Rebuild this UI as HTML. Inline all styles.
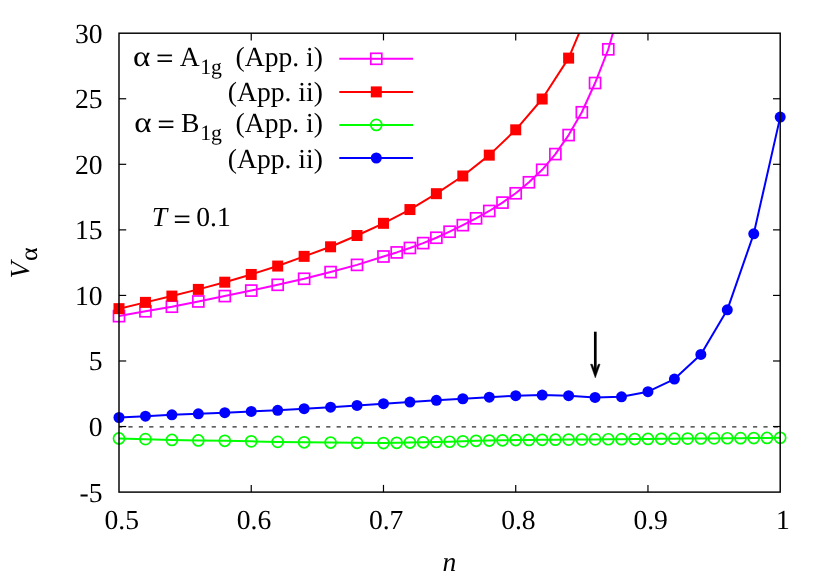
<!DOCTYPE html>
<html><head><meta charset="utf-8"><title>plot</title>
<style>
html,body{margin:0;padding:0;background:#fff;}
svg{display:block;will-change:transform;}
text{font-family:"Liberation Serif",serif;fill:#000;text-rendering:geometricPrecision;}
</style></head><body>
<svg width="830" height="581" viewBox="0 0 830 581">
<rect width="830" height="581" fill="#fff"/>
<defs><clipPath id="c"><rect x="119.00" y="33.20" width="661.20" height="458.90"/></clipPath></defs>

<line x1="119.00" y1="426.89" x2="780.20" y2="426.89" stroke="#2a2a2a" stroke-width="1.05" stroke-dasharray="4.2 6.21" stroke-dashoffset="1.0"/>
<text x="102.6" y="42.60" font-size="27.6" text-anchor="end">30</text>
<text x="102.6" y="108.16" font-size="27.6" text-anchor="end">25</text>
<text x="102.6" y="173.71" font-size="27.6" text-anchor="end">20</text>
<text x="102.6" y="239.27" font-size="27.6" text-anchor="end">15</text>
<text x="102.6" y="304.83" font-size="27.6" text-anchor="end">10</text>
<text x="102.6" y="370.39" font-size="27.6" text-anchor="end">5</text>
<text x="102.6" y="435.94" font-size="27.6" text-anchor="end">0</text>
<text x="102.6" y="501.50" font-size="27.6" text-anchor="end">-5</text>
<text x="121.70" y="528.9" font-size="27.6" text-anchor="middle">0.5</text>
<text x="253.94" y="528.9" font-size="27.6" text-anchor="middle">0.6</text>
<text x="386.18" y="528.9" font-size="27.6" text-anchor="middle">0.7</text>
<text x="518.42" y="528.9" font-size="27.6" text-anchor="middle">0.8</text>
<text x="650.66" y="528.9" font-size="27.6" text-anchor="middle">0.9</text>
<text x="782.90" y="528.9" font-size="27.6" text-anchor="middle">1</text>
<text x="449.5" y="571.3" font-size="27.6" font-style="italic" text-anchor="middle">n</text>
<g transform="translate(28.9,278.4) rotate(-90)"><text x="0" y="0" font-size="27.6" font-style="italic">V</text><text transform="translate(17.5,8.0) scale(1.2,1.12)" font-size="21.8">α</text></g>
<text x="151.7" y="226" font-size="27.6" font-style="italic">T</text>
<text transform="translate(181.95,228.7) scale(1.1,1.06)" text-anchor="middle" font-size="27.6" stroke="#000" stroke-width="0.3">=</text>
<text x="196.3" y="226" font-size="27.6">0.1</text>
<g clip-path="url(#c)"><polyline points="119.00,316.14 145.45,311.29 171.90,306.70 198.34,301.46 224.79,296.08 251.24,290.58 277.69,284.81 304.14,278.78 330.58,272.09 357.03,264.88 383.48,256.49 396.70,252.42 409.93,247.97 423.15,243.11 436.38,237.74 449.60,231.71 462.82,225.15 476.05,218.33 489.27,210.99 502.50,202.60 515.72,193.29 528.94,182.28 542.17,169.82 555.39,154.09 568.62,135.08 581.84,112.26 595.06,83.02 608.29,49.33 621.51,3.04" fill="none" stroke="#ff00ff" stroke-width="2" stroke-linejoin="round"/></g>
<rect x="113.50" y="310.64" width="11.00" height="11.00" fill="none" stroke="#ff00ff" stroke-width="1.7"/>
<rect x="139.95" y="305.79" width="11.00" height="11.00" fill="none" stroke="#ff00ff" stroke-width="1.7"/>
<rect x="166.40" y="301.20" width="11.00" height="11.00" fill="none" stroke="#ff00ff" stroke-width="1.7"/>
<rect x="192.84" y="295.96" width="11.00" height="11.00" fill="none" stroke="#ff00ff" stroke-width="1.7"/>
<rect x="219.29" y="290.58" width="11.00" height="11.00" fill="none" stroke="#ff00ff" stroke-width="1.7"/>
<rect x="245.74" y="285.08" width="11.00" height="11.00" fill="none" stroke="#ff00ff" stroke-width="1.7"/>
<rect x="272.19" y="279.31" width="11.00" height="11.00" fill="none" stroke="#ff00ff" stroke-width="1.7"/>
<rect x="298.64" y="273.28" width="11.00" height="11.00" fill="none" stroke="#ff00ff" stroke-width="1.7"/>
<rect x="325.08" y="266.59" width="11.00" height="11.00" fill="none" stroke="#ff00ff" stroke-width="1.7"/>
<rect x="351.53" y="259.38" width="11.00" height="11.00" fill="none" stroke="#ff00ff" stroke-width="1.7"/>
<rect x="377.98" y="250.99" width="11.00" height="11.00" fill="none" stroke="#ff00ff" stroke-width="1.7"/>
<rect x="391.20" y="246.92" width="11.00" height="11.00" fill="none" stroke="#ff00ff" stroke-width="1.7"/>
<rect x="404.43" y="242.47" width="11.00" height="11.00" fill="none" stroke="#ff00ff" stroke-width="1.7"/>
<rect x="417.65" y="237.61" width="11.00" height="11.00" fill="none" stroke="#ff00ff" stroke-width="1.7"/>
<rect x="430.88" y="232.24" width="11.00" height="11.00" fill="none" stroke="#ff00ff" stroke-width="1.7"/>
<rect x="444.10" y="226.21" width="11.00" height="11.00" fill="none" stroke="#ff00ff" stroke-width="1.7"/>
<rect x="457.32" y="219.65" width="11.00" height="11.00" fill="none" stroke="#ff00ff" stroke-width="1.7"/>
<rect x="470.55" y="212.83" width="11.00" height="11.00" fill="none" stroke="#ff00ff" stroke-width="1.7"/>
<rect x="483.77" y="205.49" width="11.00" height="11.00" fill="none" stroke="#ff00ff" stroke-width="1.7"/>
<rect x="497.00" y="197.10" width="11.00" height="11.00" fill="none" stroke="#ff00ff" stroke-width="1.7"/>
<rect x="510.22" y="187.79" width="11.00" height="11.00" fill="none" stroke="#ff00ff" stroke-width="1.7"/>
<rect x="523.44" y="176.78" width="11.00" height="11.00" fill="none" stroke="#ff00ff" stroke-width="1.7"/>
<rect x="536.67" y="164.32" width="11.00" height="11.00" fill="none" stroke="#ff00ff" stroke-width="1.7"/>
<rect x="549.89" y="148.59" width="11.00" height="11.00" fill="none" stroke="#ff00ff" stroke-width="1.7"/>
<rect x="563.12" y="129.58" width="11.00" height="11.00" fill="none" stroke="#ff00ff" stroke-width="1.7"/>
<rect x="576.34" y="106.76" width="11.00" height="11.00" fill="none" stroke="#ff00ff" stroke-width="1.7"/>
<rect x="589.56" y="77.52" width="11.00" height="11.00" fill="none" stroke="#ff00ff" stroke-width="1.7"/>
<rect x="602.79" y="43.83" width="11.00" height="11.00" fill="none" stroke="#ff00ff" stroke-width="1.7"/>
<g clip-path="url(#c)"><polyline points="119.00,308.67 145.45,302.38 171.90,296.08 198.34,289.40 224.79,282.19 251.24,274.45 277.69,266.06 304.14,256.36 330.58,246.79 357.03,235.51 383.48,223.32 409.93,209.55 436.38,193.68 462.82,175.98 489.27,155.14 515.72,129.83 542.17,99.02 568.62,58.11 595.06,-4.82" fill="none" stroke="#ff0000" stroke-width="2" stroke-linejoin="round"/></g>
<rect x="113.50" y="303.17" width="11.00" height="11.00" fill="#ff0000"/>
<rect x="139.95" y="296.88" width="11.00" height="11.00" fill="#ff0000"/>
<rect x="166.40" y="290.58" width="11.00" height="11.00" fill="#ff0000"/>
<rect x="192.84" y="283.90" width="11.00" height="11.00" fill="#ff0000"/>
<rect x="219.29" y="276.69" width="11.00" height="11.00" fill="#ff0000"/>
<rect x="245.74" y="268.95" width="11.00" height="11.00" fill="#ff0000"/>
<rect x="272.19" y="260.56" width="11.00" height="11.00" fill="#ff0000"/>
<rect x="298.64" y="250.86" width="11.00" height="11.00" fill="#ff0000"/>
<rect x="325.08" y="241.29" width="11.00" height="11.00" fill="#ff0000"/>
<rect x="351.53" y="230.01" width="11.00" height="11.00" fill="#ff0000"/>
<rect x="377.98" y="217.82" width="11.00" height="11.00" fill="#ff0000"/>
<rect x="404.43" y="204.05" width="11.00" height="11.00" fill="#ff0000"/>
<rect x="430.88" y="188.18" width="11.00" height="11.00" fill="#ff0000"/>
<rect x="457.32" y="170.48" width="11.00" height="11.00" fill="#ff0000"/>
<rect x="483.77" y="149.64" width="11.00" height="11.00" fill="#ff0000"/>
<rect x="510.22" y="124.33" width="11.00" height="11.00" fill="#ff0000"/>
<rect x="536.67" y="93.52" width="11.00" height="11.00" fill="#ff0000"/>
<rect x="563.12" y="52.61" width="11.00" height="11.00" fill="#ff0000"/>
<g clip-path="url(#c)"><polyline points="119.00,438.47 145.45,439.13 171.90,439.92 198.34,440.44 224.79,440.83 251.24,441.36 277.69,441.88 304.14,442.28 330.58,442.54 357.03,442.80 383.48,443.06 396.70,442.80 409.93,442.54 423.15,442.28 436.38,442.01 449.60,441.75 462.82,441.36 476.05,440.83 489.27,440.57 502.50,440.31 515.72,440.05 528.94,439.94 542.17,439.82 555.39,439.71 568.62,439.60 581.84,439.49 595.06,439.38 608.29,439.27 621.51,439.16 634.74,439.04 647.96,438.93 661.18,438.82 674.41,438.71 687.63,438.60 700.86,438.49 714.08,438.38 727.30,438.26 740.53,438.15 753.75,438.04 766.98,437.93 780.20,437.82" fill="none" stroke="#00ff00" stroke-width="2" stroke-linejoin="round"/></g>
<circle cx="119.00" cy="438.47" r="5.5" fill="none" stroke="#00ff00" stroke-width="1.7"/>
<circle cx="145.45" cy="439.13" r="5.5" fill="none" stroke="#00ff00" stroke-width="1.7"/>
<circle cx="171.90" cy="439.92" r="5.5" fill="none" stroke="#00ff00" stroke-width="1.7"/>
<circle cx="198.34" cy="440.44" r="5.5" fill="none" stroke="#00ff00" stroke-width="1.7"/>
<circle cx="224.79" cy="440.83" r="5.5" fill="none" stroke="#00ff00" stroke-width="1.7"/>
<circle cx="251.24" cy="441.36" r="5.5" fill="none" stroke="#00ff00" stroke-width="1.7"/>
<circle cx="277.69" cy="441.88" r="5.5" fill="none" stroke="#00ff00" stroke-width="1.7"/>
<circle cx="304.14" cy="442.28" r="5.5" fill="none" stroke="#00ff00" stroke-width="1.7"/>
<circle cx="330.58" cy="442.54" r="5.5" fill="none" stroke="#00ff00" stroke-width="1.7"/>
<circle cx="357.03" cy="442.80" r="5.5" fill="none" stroke="#00ff00" stroke-width="1.7"/>
<circle cx="383.48" cy="443.06" r="5.5" fill="none" stroke="#00ff00" stroke-width="1.7"/>
<circle cx="396.70" cy="442.80" r="5.5" fill="none" stroke="#00ff00" stroke-width="1.7"/>
<circle cx="409.93" cy="442.54" r="5.5" fill="none" stroke="#00ff00" stroke-width="1.7"/>
<circle cx="423.15" cy="442.28" r="5.5" fill="none" stroke="#00ff00" stroke-width="1.7"/>
<circle cx="436.38" cy="442.01" r="5.5" fill="none" stroke="#00ff00" stroke-width="1.7"/>
<circle cx="449.60" cy="441.75" r="5.5" fill="none" stroke="#00ff00" stroke-width="1.7"/>
<circle cx="462.82" cy="441.36" r="5.5" fill="none" stroke="#00ff00" stroke-width="1.7"/>
<circle cx="476.05" cy="440.83" r="5.5" fill="none" stroke="#00ff00" stroke-width="1.7"/>
<circle cx="489.27" cy="440.57" r="5.5" fill="none" stroke="#00ff00" stroke-width="1.7"/>
<circle cx="502.50" cy="440.31" r="5.5" fill="none" stroke="#00ff00" stroke-width="1.7"/>
<circle cx="515.72" cy="440.05" r="5.5" fill="none" stroke="#00ff00" stroke-width="1.7"/>
<circle cx="528.94" cy="439.94" r="5.5" fill="none" stroke="#00ff00" stroke-width="1.7"/>
<circle cx="542.17" cy="439.82" r="5.5" fill="none" stroke="#00ff00" stroke-width="1.7"/>
<circle cx="555.39" cy="439.71" r="5.5" fill="none" stroke="#00ff00" stroke-width="1.7"/>
<circle cx="568.62" cy="439.60" r="5.5" fill="none" stroke="#00ff00" stroke-width="1.7"/>
<circle cx="581.84" cy="439.49" r="5.5" fill="none" stroke="#00ff00" stroke-width="1.7"/>
<circle cx="595.06" cy="439.38" r="5.5" fill="none" stroke="#00ff00" stroke-width="1.7"/>
<circle cx="608.29" cy="439.27" r="5.5" fill="none" stroke="#00ff00" stroke-width="1.7"/>
<circle cx="621.51" cy="439.16" r="5.5" fill="none" stroke="#00ff00" stroke-width="1.7"/>
<circle cx="634.74" cy="439.04" r="5.5" fill="none" stroke="#00ff00" stroke-width="1.7"/>
<circle cx="647.96" cy="438.93" r="5.5" fill="none" stroke="#00ff00" stroke-width="1.7"/>
<circle cx="661.18" cy="438.82" r="5.5" fill="none" stroke="#00ff00" stroke-width="1.7"/>
<circle cx="674.41" cy="438.71" r="5.5" fill="none" stroke="#00ff00" stroke-width="1.7"/>
<circle cx="687.63" cy="438.60" r="5.5" fill="none" stroke="#00ff00" stroke-width="1.7"/>
<circle cx="700.86" cy="438.49" r="5.5" fill="none" stroke="#00ff00" stroke-width="1.7"/>
<circle cx="714.08" cy="438.38" r="5.5" fill="none" stroke="#00ff00" stroke-width="1.7"/>
<circle cx="727.30" cy="438.26" r="5.5" fill="none" stroke="#00ff00" stroke-width="1.7"/>
<circle cx="740.53" cy="438.15" r="5.5" fill="none" stroke="#00ff00" stroke-width="1.7"/>
<circle cx="753.75" cy="438.04" r="5.5" fill="none" stroke="#00ff00" stroke-width="1.7"/>
<circle cx="766.98" cy="437.93" r="5.5" fill="none" stroke="#00ff00" stroke-width="1.7"/>
<circle cx="780.20" cy="437.82" r="5.5" fill="none" stroke="#00ff00" stroke-width="1.7"/>
<g clip-path="url(#c)"><polyline points="119.00,417.50 145.45,416.18 171.90,414.87 198.34,413.82 224.79,412.64 251.24,411.46 277.69,410.28 304.14,408.71 330.58,407.14 357.03,405.43 383.48,403.73 409.93,402.02 436.38,400.32 462.82,398.75 489.27,397.17 515.72,395.73 542.17,395.08 568.62,395.73 595.06,397.44 621.51,396.78 647.96,391.67 674.41,379.08 700.86,354.43 727.30,309.85 753.75,233.80 780.20,117.11" fill="none" stroke="#0000ff" stroke-width="2" stroke-linejoin="round"/></g>
<circle cx="119.00" cy="417.50" r="5.5" fill="#0000ff"/>
<circle cx="145.45" cy="416.18" r="5.5" fill="#0000ff"/>
<circle cx="171.90" cy="414.87" r="5.5" fill="#0000ff"/>
<circle cx="198.34" cy="413.82" r="5.5" fill="#0000ff"/>
<circle cx="224.79" cy="412.64" r="5.5" fill="#0000ff"/>
<circle cx="251.24" cy="411.46" r="5.5" fill="#0000ff"/>
<circle cx="277.69" cy="410.28" r="5.5" fill="#0000ff"/>
<circle cx="304.14" cy="408.71" r="5.5" fill="#0000ff"/>
<circle cx="330.58" cy="407.14" r="5.5" fill="#0000ff"/>
<circle cx="357.03" cy="405.43" r="5.5" fill="#0000ff"/>
<circle cx="383.48" cy="403.73" r="5.5" fill="#0000ff"/>
<circle cx="409.93" cy="402.02" r="5.5" fill="#0000ff"/>
<circle cx="436.38" cy="400.32" r="5.5" fill="#0000ff"/>
<circle cx="462.82" cy="398.75" r="5.5" fill="#0000ff"/>
<circle cx="489.27" cy="397.17" r="5.5" fill="#0000ff"/>
<circle cx="515.72" cy="395.73" r="5.5" fill="#0000ff"/>
<circle cx="542.17" cy="395.08" r="5.5" fill="#0000ff"/>
<circle cx="568.62" cy="395.73" r="5.5" fill="#0000ff"/>
<circle cx="595.06" cy="397.44" r="5.5" fill="#0000ff"/>
<circle cx="621.51" cy="396.78" r="5.5" fill="#0000ff"/>
<circle cx="647.96" cy="391.67" r="5.5" fill="#0000ff"/>
<circle cx="674.41" cy="379.08" r="5.5" fill="#0000ff"/>
<circle cx="700.86" cy="354.43" r="5.5" fill="#0000ff"/>
<circle cx="727.30" cy="309.85" r="5.5" fill="#0000ff"/>
<circle cx="753.75" cy="233.80" r="5.5" fill="#0000ff"/>
<circle cx="780.20" cy="117.11" r="5.5" fill="#0000ff"/>
<rect x="119.00" y="33.20" width="661.20" height="458.90" fill="none" stroke="#000" stroke-width="1.45"/>
<line x1="251.24" y1="492.10" x2="251.24" y2="484.90" stroke="#000" stroke-width="1.2"/>
<line x1="251.24" y1="33.20" x2="251.24" y2="40.40" stroke="#000" stroke-width="1.2"/>
<line x1="383.48" y1="492.10" x2="383.48" y2="484.90" stroke="#000" stroke-width="1.2"/>
<line x1="383.48" y1="33.20" x2="383.48" y2="40.40" stroke="#000" stroke-width="1.2"/>
<line x1="515.72" y1="492.10" x2="515.72" y2="484.90" stroke="#000" stroke-width="1.2"/>
<line x1="515.72" y1="33.20" x2="515.72" y2="40.40" stroke="#000" stroke-width="1.2"/>
<line x1="647.96" y1="492.10" x2="647.96" y2="484.90" stroke="#000" stroke-width="1.2"/>
<line x1="647.96" y1="33.20" x2="647.96" y2="40.40" stroke="#000" stroke-width="1.2"/>
<line x1="119.00" y1="426.54" x2="126.20" y2="426.54" stroke="#000" stroke-width="1.2"/>
<line x1="780.20" y1="426.54" x2="773.00" y2="426.54" stroke="#000" stroke-width="1.2"/>
<line x1="119.00" y1="360.99" x2="126.20" y2="360.99" stroke="#000" stroke-width="1.2"/>
<line x1="780.20" y1="360.99" x2="773.00" y2="360.99" stroke="#000" stroke-width="1.2"/>
<line x1="119.00" y1="295.43" x2="126.20" y2="295.43" stroke="#000" stroke-width="1.2"/>
<line x1="780.20" y1="295.43" x2="773.00" y2="295.43" stroke="#000" stroke-width="1.2"/>
<line x1="119.00" y1="229.87" x2="126.20" y2="229.87" stroke="#000" stroke-width="1.2"/>
<line x1="780.20" y1="229.87" x2="773.00" y2="229.87" stroke="#000" stroke-width="1.2"/>
<line x1="119.00" y1="164.31" x2="126.20" y2="164.31" stroke="#000" stroke-width="1.2"/>
<line x1="780.20" y1="164.31" x2="773.00" y2="164.31" stroke="#000" stroke-width="1.2"/>
<line x1="119.00" y1="98.76" x2="126.20" y2="98.76" stroke="#000" stroke-width="1.2"/>
<line x1="780.20" y1="98.76" x2="773.00" y2="98.76" stroke="#000" stroke-width="1.2"/>
<line x1="339.30" y1="58.80" x2="413.00" y2="58.80" stroke="#ff00ff" stroke-width="2"/>
<line x1="339.30" y1="91.90" x2="413.00" y2="91.90" stroke="#ff0000" stroke-width="2"/>
<line x1="339.30" y1="124.90" x2="413.00" y2="124.90" stroke="#00ff00" stroke-width="2"/>
<line x1="339.30" y1="158.00" x2="413.00" y2="158.00" stroke="#0000ff" stroke-width="2"/>
<rect x="370.80" y="53.30" width="11.00" height="11.00" fill="#fff" stroke="#ff00ff" stroke-width="1.7"/>
<line x1="370.80" y1="58.80" x2="381.80" y2="58.80" stroke="#ff00ff" stroke-width="2"/>
<rect x="370.80" y="86.40" width="11.00" height="11.00" fill="#ff0000"/>
<circle cx="376.30" cy="124.90" r="5.5" fill="none" stroke="#00ff00" stroke-width="1.7"/>
<circle cx="376.30" cy="158.00" r="5.5" fill="#0000ff"/>
<text x="322.9" y="65.60" font-size="27.6" text-anchor="end">(App. i)</text>
<text x="322.9" y="101.30" font-size="27.6" text-anchor="end">(App. ii)</text>
<text x="322.9" y="131.60" font-size="27.6" text-anchor="end">(App. i)</text>
<text x="322.9" y="167.80" font-size="27.6" text-anchor="end">(App. ii)</text>
<text transform="translate(132.90,65.60) scale(1.2,1.05)" font-size="27.6">α</text>
<text transform="translate(164.75,68.30) scale(1.1,1.06)" text-anchor="middle" font-size="27.6" stroke="#000" stroke-width="0.3">=</text>
<text x="179.80" y="65.60" font-size="27.6">A</text>
<text x="200.2" y="73.50" font-size="21.8">1g</text>
<text transform="translate(134.20,131.60) scale(1.2,1.05)" font-size="27.6">α</text>
<text transform="translate(166.05,134.30) scale(1.1,1.06)" text-anchor="middle" font-size="27.6" stroke="#000" stroke-width="0.3">=</text>
<text x="181.10" y="131.60" font-size="27.6">B</text>
<text x="200.2" y="139.50" font-size="21.8">1g</text>
<line x1="595.30" y1="331.7" x2="595.30" y2="373" stroke="#000" stroke-width="2.7"/>
<path stroke="#000" stroke-width="0.5" stroke-linejoin="round" d="M595.30 377.8 L590.55 364.25 L592.30 364.25 L595.30 371.5 L598.30 364.25 L600.05 364.25 Z" fill="#000"/>
</svg></body></html>
